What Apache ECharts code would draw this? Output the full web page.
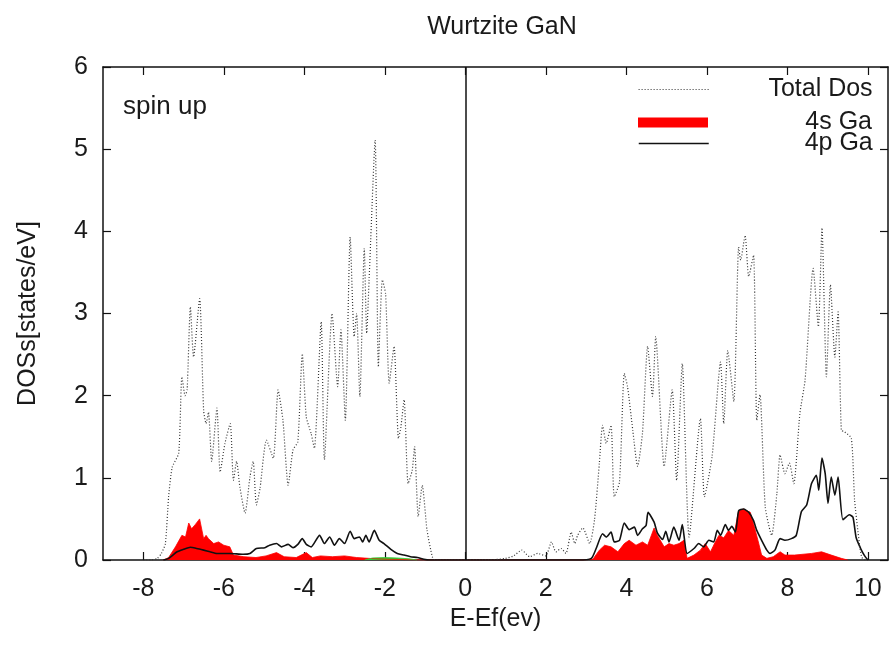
<!DOCTYPE html>
<html>
<head>
<meta charset="utf-8">
<title>Wurtzite GaN</title>
<script src="https://cdn.jsdelivr.net/npm/echarts@6/dist/echarts.min.js"></script>
<style>
  html, body { margin: 0; padding: 0; background: #ffffff; }
  #chart { width: 893px; height: 645px; }
</style>
</head>
<body>
<div id="chart"></div>
<script>
// Total density of states (states/eV) against E - Ef (eV)
const totalEnergy = [
  -8.0, -7.8, -7.65, -7.55, -7.45, -7.37, -7.28, -7.12, -7.04, -6.96, -6.91, -6.83, -6.75, -6.6,
  -6.5, -6.44, -6.38, -6.3, -6.17, -6.09, -5.97, -5.84, -5.76, -5.68, -5.6, -5.47, -5.35, -5.27,
  -5.19, -5.1, -4.94, -4.77, -4.65, -4.53, -4.4, -4.28, -4.16, -4.05, -3.95, -3.83, -3.75, -3.58,
  -3.5, -3.31, -3.17, -3.09, -2.98, -2.86, -2.76, -2.7, -2.62, -2.51, -2.45, -2.39, -2.24, -2.16,
  -2.06, -1.98, -1.89, -1.77, -1.66, -1.6, -1.52, -1.42, -1.32, -1.26, -1.17, -1.07, -0.95, -0.82,
  -0.75, 0.6, 1.0, 1.2, 1.4, 1.6, 1.8, 2.0, 2.14, 2.25, 2.38, 2.5, 2.63, 2.72, 2.79, 2.92, 3.09,
  3.21, 3.33, 3.41, 3.5, 3.62, 3.7, 3.83, 3.95, 4.03, 4.16, 4.28, 4.4, 4.53, 4.65, 4.73, 4.94,
  5.14, 5.25, 5.39, 5.56, 5.84, 5.94, 6.13, 6.34, 6.42, 6.52, 6.67, 6.79, 6.84, 6.95, 7.04, 7.16,
  7.24, 7.32, 7.45, 7.61, 7.74, 7.82, 7.94, 8.05, 8.16, 8.31, 8.44, 8.64, 8.77, 8.86, 8.97, 9.07,
  9.18, 9.26, 9.34, 9.42, 9.59, 9.67, 9.79, 9.85, 9.95
];
const totalDos = [
  0, 0, 0.02, 0.08, 0.2, 0.77, 1.13, 1.3, 2.23, 2.0, 2.07, 3.08, 2.47, 3.18,
  1.82, 1.66, 1.8, 1.2, 1.85, 1.07, 1.42, 1.66, 0.97, 1.2, 0.89, 0.57, 1.01, 1.2,
  0.67, 0.87, 1.46, 1.24, 2.07, 1.7, 0.91, 1.34, 1.44, 2.51, 1.74, 1.54, 1.36, 2.9,
  1.22, 3.0, 2.11, 2.8, 1.7, 3.93, 2.72, 3.0, 1.99, 3.79, 2.76, 3.41, 5.11, 2.35,
  3.41, 3.24, 2.15, 2.6, 1.48, 1.62, 1.95, 0.93, 1.09, 1.38, 0.53, 0.91, 0.36, 0.04,
  0, 0, 0.02, 0.05, 0.12, 0.04, 0.08, 0.05, 0.22, 0.1, 0.14, 0.08, 0.34, 0.2, 0.3, 0.39, 0.2,
  0.49, 1.18, 1.64, 1.42, 1.64, 0.77, 0.95, 2.27, 2.11, 1.58, 1.14, 1.54, 2.6, 1.99, 2.72, 1.14,
  2.07, 0.97, 2.39, 0.28, 1.72, 0.77, 1.26, 2.41, 1.66, 2.55, 1.93, 3.81, 3.65, 3.95, 3.45, 3.71,
  1.7, 2.01, 0.65, 0.3, 0.81, 1.28, 1.05, 1.18, 0.93, 1.78, 2.19, 3.55, 2.84, 4.04, 2.23, 3.35,
  2.47, 3.02, 1.58, 1.56, 1.48, 0.73, 0.2, 0.03, 0
];

// Ga 4s partial DOS
const s4Energy = [
  -7.5, -7.37, -7.2, -7.04, -6.95, -6.87, -6.8, -6.71, -6.6, -6.5, -6.44, -6.38, -6.25, -6.13,
  -6.0, -5.85, -5.76, -5.5, -5.2, -4.95, -4.69, -4.5, -4.2, -3.95, -3.8, -3.6, -3.3, -3.0, -2.7,
  -2.4, -2.0, -1.5, -1.0,
  2.9, 3.17, 3.33, 3.46, 3.62, 3.79, 3.95, 4.07, 4.24, 4.4, 4.53, 4.69, 4.77, 4.94, 5.06, 5.18,
  5.31, 5.43, 5.51, 5.68, 5.84, 5.96, 6.09, 6.21, 6.3, 6.42, 6.54, 6.67, 6.79, 6.91, 7.08, 7.16,
  7.28, 7.36, 7.49, 7.65, 7.82, 7.94, 8.18, 8.6, 8.85, 9.09, 9.34, 9.5
];
const s4Dos = [
  0, 0.03, 0.16, 0.3, 0.28, 0.45, 0.38, 0.43, 0.5, 0.26, 0.3, 0.26, 0.2, 0.22,
  0.18, 0.16, 0.06, 0.04, 0.03, 0.05, 0.09, 0.04, 0.03, 0.09, 0.03, 0.05, 0.04, 0.05, 0.03,
  0.02, 0.01, 0.005, 0,
  0, 0.01, 0.12, 0.18, 0.16, 0.1, 0.2, 0.24, 0.18, 0.22, 0.18, 0.39, 0.3, 0.16, 0.2, 0.18,
  0.2, 0.24, 0.02, 0.06, 0.12, 0.2, 0.1, 0.22, 0.3, 0.27, 0.36, 0.3, 0.6, 0.62, 0.58, 0.44,
  0.22, 0.06, 0.02, 0.04, 0.1, 0.06, 0.06, 0.08, 0.1, 0.06, 0.02, 0
];

// Ga 4p partial DOS
const p4Energy = [
  -7.5, -7.37, -7.16, -7.0, -6.83, -6.67, -6.5, -6.34, -6.17, -5.85, -5.52, -5.35, -5.19, -4.98,
  -4.86, -4.69, -4.57, -4.4, -4.28, -4.16, -4.05, -3.95, -3.83, -3.62, -3.5, -3.37, -3.25, -3.13,
  -3.0, -2.86, -2.76, -2.63, -2.55, -2.47, -2.39, -2.26, -2.14, -2.02, -1.85, -1.69, -1.52, -1.36,
  -1.19, -1.03, -0.9,
  2.8, 3.13, 3.25, 3.41, 3.5, 3.62, 3.7, 3.83, 3.95, 4.07, 4.2, 4.28, 4.4, 4.49, 4.54, 4.69,
  4.77, 4.9, 4.98, 5.06, 5.18, 5.31, 5.39, 5.51, 5.68, 5.8, 5.92, 6.05, 6.17, 6.26, 6.34, 6.46,
  6.54, 6.62, 6.71, 6.79, 6.91, 7.04, 7.16, 7.24, 7.36, 7.49, 7.57, 7.69, 7.82, 7.94, 8.1, 8.22,
  8.35, 8.48, 8.6, 8.72, 8.78, 8.86, 8.94, 9.01, 9.09, 9.18, 9.26, 9.38, 9.54, 9.63, 9.71, 9.83,
  9.92, 10.0
];
const p4Dos = [
  0, 0.02, 0.1, 0.13, 0.155, 0.14, 0.12, 0.1, 0.08, 0.08, 0.07, 0.08, 0.14, 0.15,
  0.18, 0.2, 0.16, 0.19, 0.15, 0.19, 0.26, 0.19, 0.16, 0.3, 0.2, 0.28, 0.18, 0.26,
  0.2, 0.35, 0.26, 0.28, 0.22, 0.3, 0.22, 0.36, 0.24, 0.2, 0.13, 0.08, 0.06, 0.04,
  0.03, 0.01, 0,
  0, 0.02, 0.14, 0.32, 0.28, 0.34, 0.22, 0.24, 0.45, 0.37, 0.4, 0.3, 0.38, 0.42, 0.58, 0.46,
  0.33, 0.25, 0.35, 0.22, 0.4, 0.24, 0.43, 0.08, 0.14, 0.2, 0.16, 0.24, 0.22, 0.36, 0.3, 0.43,
  0.36, 0.41, 0.34, 0.6, 0.62, 0.58, 0.48, 0.36, 0.24, 0.12, 0.08, 0.12, 0.26, 0.24, 0.26, 0.3,
  0.59, 0.67, 0.93, 1.03, 0.85, 1.24, 1.05, 0.69, 1.01, 0.79, 1.01, 0.49, 0.55, 0.52, 0.27, 0.13,
  0.05, 0
];

// Small remaining contribution just below the Fermi level
const minorEnergy = [-2.5, -2.3, -2.0, -1.7, -1.4, -1.2];
const minorDos = [0, 0.025, 0.03, 0.025, 0.015, 0];

const xTickValues = [-8, -6, -4, -2, 0, 2, 4, 6, 8, 10];
const yTickValues = [0, 1, 2, 3, 4, 5, 6];
const seriesNames = ['Total Dos', '4s Ga', '4p Ga'];

const pairs = (xs, ys) => xs.map((x, i) => [x, ys[i]]);

const FONT = '"Liberation Sans", Arial, sans-serif';
const INK = '#1a1a1a';
const FS = 25;

const chart = echarts.init(document.getElementById('chart'), null, { renderer: 'canvas' });

const tickCommon = { show: true, inside: true, length: 8, lineStyle: { color: '#111', width: 1.2 } };
const lineCommon = { show: true, onZero: false, lineStyle: { color: '#111', width: 1.5 } };

function legendEntry(name, top, extra) {
  return Object.assign({
    data: [name],
    left: 638,
    top: top,
    itemWidth: 70,
    itemGap: 0,
    padding: 0,
    selectedMode: false,
    formatter: '{t|{name}}',
    textStyle: {
      fontFamily: FONT, fontSize: FS, color: INK,
      rich: { t: { width: 159, align: 'right', fontFamily: FONT, fontSize: FS, color: INK } }
    }
  }, extra);
}

chart.setOption({
  animation: false,
  backgroundColor: '#ffffff',
  title: {
    text: 'Wurtzite GaN',
    left: 497,
    textAlign: 'center',
    top: 10,
    textStyle: { fontFamily: FONT, fontSize: FS, fontWeight: 'normal', color: INK }
  },
  grid: { left: 103, right: 5, top: 67, bottom: 85, containLabel: false },
  legend: [
    legendEntry(seriesNames[0], 77, { itemHeight: 14, itemStyle: { opacity: 0 }, lineStyle: { width: 1.2 } }),
    legendEntry(seriesNames[1], 110, { itemHeight: 10, icon: 'rect' }),
    legendEntry(seriesNames[2], 131, { itemHeight: 14, itemStyle: { opacity: 0 }, lineStyle: { width: 1.5 } })
  ],
  xAxis: [
    {
      type: 'value', position: 'bottom', min: -9, max: 10.5,
      name: 'E-Ef(ev)', nameLocation: 'middle', nameGap: 26,
      nameTextStyle: { fontFamily: FONT, fontSize: FS, color: INK },
      axisLine: lineCommon,
      axisTick: Object.assign({ customValues: xTickValues }, tickCommon),
      axisLabel: { customValues: xTickValues, margin: 17, fontFamily: FONT, fontSize: FS, color: INK },
      splitLine: { show: false }
    },
    {
      type: 'value', position: 'top', min: -9, max: 10.5,
      axisLine: lineCommon,
      axisTick: Object.assign({ customValues: xTickValues }, tickCommon),
      axisLabel: { show: false },
      splitLine: { show: false }
    }
  ],
  yAxis: [
    {
      type: 'value', position: 'left', min: 0, max: 6,
      name: 'DOSs[states/eV]', nameLocation: 'middle', nameGap: 62,
      nameTextStyle: { fontFamily: FONT, fontSize: FS, color: INK },
      axisLine: lineCommon,
      axisTick: Object.assign({ customValues: yTickValues }, tickCommon),
      axisLabel: { customValues: yTickValues, margin: 15, fontFamily: FONT, fontSize: FS, color: INK },
      splitLine: { show: false }
    },
    {
      type: 'value', position: 'right', min: 0, max: 6,
      axisLine: lineCommon,
      axisTick: Object.assign({ customValues: yTickValues }, tickCommon),
      axisLabel: { show: false },
      splitLine: { show: false }
    }
  ],
  graphic: [
    {
      type: 'text', left: 123, top: 94,
      style: { text: 'spin up', fontFamily: FONT, fontSize: 26, fill: INK }
    }
  ],
  series: [
    {
      name: seriesNames[1],
      type: 'line',
      xAxisIndex: 0, yAxisIndex: 0,
      data: pairs(s4Energy, s4Dos),
      showSymbol: false, symbol: 'none',
      color: '#ff0000',
      lineStyle: { width: 0.8, color: '#ff0000' },
      areaStyle: { color: '#ff0000', opacity: 1 },
      z: 2
    },
    {
      name: 'minor',
      type: 'line',
      data: pairs(minorEnergy, minorDos),
      showSymbol: false, symbol: 'none',
      color: '#33cc33',
      lineStyle: { width: 0.8, color: '#33cc33' },
      areaStyle: { color: '#33cc33', opacity: 1 },
      z: 2
    },
    {
      name: seriesNames[2],
      type: 'line',
      data: pairs(p4Energy, p4Dos),
      showSymbol: false, symbol: 'none',
      smooth: 0.2,
      color: '#111111',
      lineStyle: { width: 1.6, color: '#111111' },
      z: 3
    },
    {
      name: seriesNames[0],
      type: 'line',
      data: pairs(totalEnergy, totalDos),
      showSymbol: false, symbol: 'none',
      smooth: 0.2,
      color: '#333333',
      lineStyle: { width: 1.2, color: '#333333', type: [1, 2] },
      z: 4,
      markLine: {
        silent: true,
        symbol: 'none',
        label: { show: false },
        lineStyle: { color: '#111', width: 1.5, type: 'solid' },
        data: [{ xAxis: 0 }]
      }
    }
  ]
});
</script>
</body>
</html>
